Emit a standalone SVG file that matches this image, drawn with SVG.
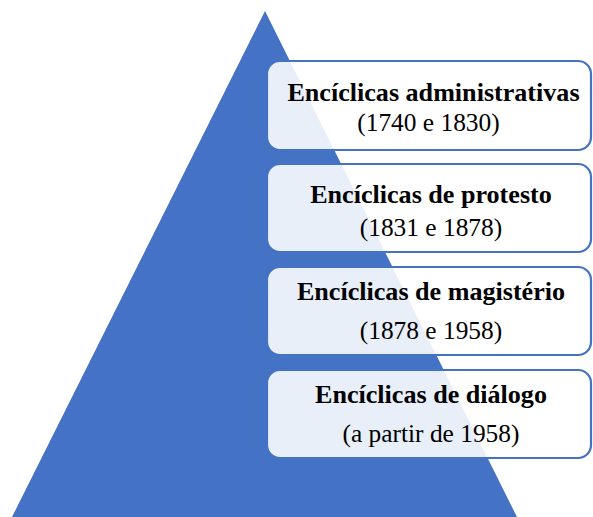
<svg xmlns="http://www.w3.org/2000/svg" width="593" height="517" viewBox="0 0 593 517">
<style>
.box{fill:#ffffff;fill-opacity:0.885;stroke:#4472C4;stroke-width:2.2}
.t{font-family:'Liberation Serif','Times New Roman',serif;font-size:26.1px;font-weight:bold;fill:#000;text-anchor:middle}
.s{font-family:'Liberation Serif','Times New Roman',serif;font-size:25.4px;fill:#000;text-anchor:middle}
</style>
<rect width="593" height="517" fill="#ffffff"/>
<polygon id="pyramid" points="265,11 12,517 517,517" fill="#4472C4"/>
<g id="node1">
<rect class="box" x="267" y="61" width="324" height="89" rx="13"/>
<text class="t" x="433.5" y="101">Encíclicas administrativas</text>
<text class="s" x="428.5" y="131">(1740 e 1830)</text>
</g>
<g id="node2">
<rect class="box" x="267" y="164" width="324" height="88" rx="13"/>
<text class="t" x="431" y="203">Encíclicas de protesto</text>
<text class="s" x="431" y="236">(1831 e 1878)</text>
</g>
<g id="node3">
<rect class="box" x="267" y="267" width="324" height="88" rx="13"/>
<text class="t" x="431" y="300">Encíclicas de magistério</text>
<text class="s" x="431" y="339">(1878 e 1958)</text>
</g>
<g id="node4">
<rect class="box" x="267" y="370" width="324" height="88" rx="13"/>
<text class="t" x="431" y="403">Encíclicas de diálogo</text>
<text class="s" x="431" y="442">(a partir de 1958)</text>
</g>
<g id="connectors"></g>
</svg>
